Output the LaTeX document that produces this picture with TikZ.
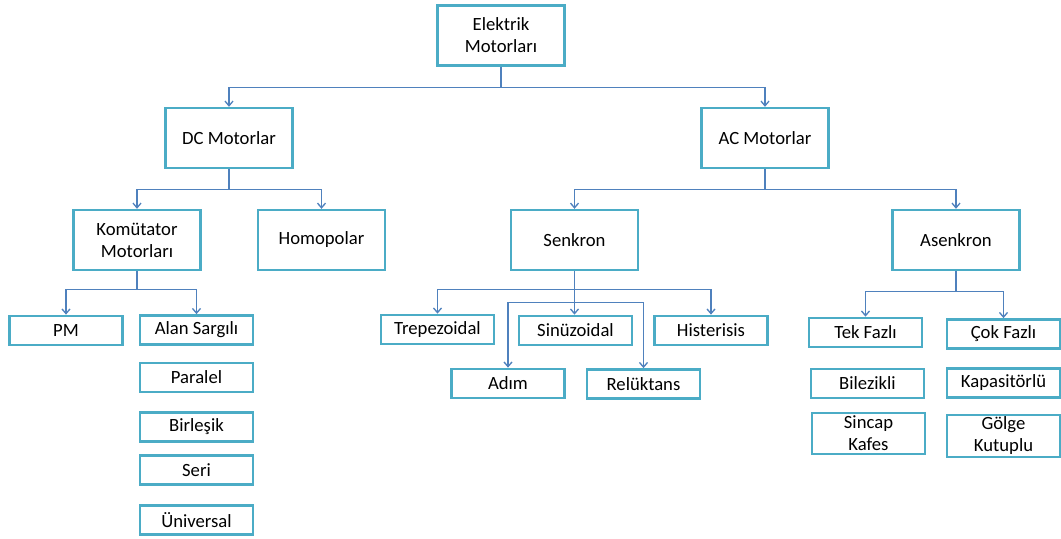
\documentclass[tikz,border=0pt]{standalone}
\usepackage{fontspec}
\setmainfont{Carlito}
\usetikzlibrary{arrows.meta}

\definecolor{boxline}{HTML}{4BACC6}
\definecolor{linkline}{HTML}{4F81BD}

\begin{document}
\begin{tikzpicture}[x=0.75pt,y=-0.75pt,
        box/.style={draw=boxline,line width=1.8pt,inner sep=0pt,align=center,
            font=\fontsize{14pt}{16.5pt}\selectfont},
        big/.style={box,minimum width=95pt,minimum height=45pt},
        small/.style={box,minimum width=85pt,minimum height=22pt},
        link/.style={draw=linkline,line width=1pt,
            -{Straight Barb[length=3.5pt,width=6pt]}}]

        \useasboundingbox (0,0) rectangle (1061,539);

        % top levels
        \node[big] (elek)  at (501,35.5) {Elektrik\\Motorları};
        \node[big] (dc)    at (229,138)  {DC Motorlar};
        \node[big] (ac)    at (765,138)  {AC Motorlar};
        \node[big] (kom)   at (137,240)  {Komütator\\Motorları};
        \node[big] (homo)  at (321.5,240) {Homopolar};
        \node[big] (senk)  at (574.5,240) {Senkron};
        \node[big] (asenk) at (956,240)  {Asenkron};

        % dc leaves
        \node[small] (pm)   at (66,330.5)   {PM};
        \node[small] (alan) at (196.5,330)  {Alan Sargılı};
        \node[small] (par)  at (196.5,377.5) {Paralel};
        \node[small] (bir)  at (196.5,427)  {Birleşik};
        \node[small] (seri) at (196.5,470)  {Seri};
        \node[small] (univ) at (196.5,520)  {Üniversal};

        % senkron leaves
        \node[small] (trep) at (437.5,329.5) {Trepezoidal};
        \node[small] (sinu) at (575.5,330.5) {Sinüzoidal};
        \node[small] (hist) at (711,330.5)   {Histerisis};
        \node[small] (adim) at (508,383.5)   {Adım};
        \node[small] (rel)  at (643.5,384)   {Relüktans};

        % asenkron leaves
        \node[small] (tek)  at (865.5,332.5) {Tek Fazlı};
        \node[small] (cok)  at (1003.5,334)  {Çok Fazlı};
        \node[small] (bil)  at (867.5,383.5) {Bilezikli};
        \node[small] (kap)  at (1003.5,383)  {Kapasitörlü};
        \node[small,minimum height=31pt] (sinc) at (868.5,433.5) {Sincap\\Kafes};
        \node[small,minimum height=31.5pt] (golg) at (1003.5,436) {Gölge\\Kutuplu};

        % connectors
        \draw[link] (elek.south) -- ++(0,21) -| (dc.north);
        \draw[link] (elek.south) -- ++(0,21) -| (ac.north);
        \draw[link] (dc.south) -- ++(0,20) -| (kom.north);
        \draw[link] (dc.south) -- ++(0,20) -| (homo.north);
        \draw[link] (ac.south) -- ++(0,20) -| (senk.north);
        \draw[link] (ac.south) -- ++(0,20) -| (asenk.north);
        \draw[link] (kom.south) -- ++(0,18) -| (pm.north);
        \draw[link] (kom.south) -- ++(0,18) -| (alan.north);
        \draw[link] (senk.south) -- (senk.south |- sinu.north);
        \draw[link] (senk.south) ++(0,18) -| (trep.north);
        \draw[link] (senk.south) ++(0,18) -| (hist.north);
        \draw[link] (senk.south) ++(0,31) -| (adim.north);
        \draw[link] (senk.south) ++(0,31) -| (rel.north);
        \draw[link] (asenk.south) -- ++(0,20) -| (tek.north);
        \draw[link] (asenk.south) -- ++(0,20) -| (cok.north);

    \end{tikzpicture}
\end{document}
